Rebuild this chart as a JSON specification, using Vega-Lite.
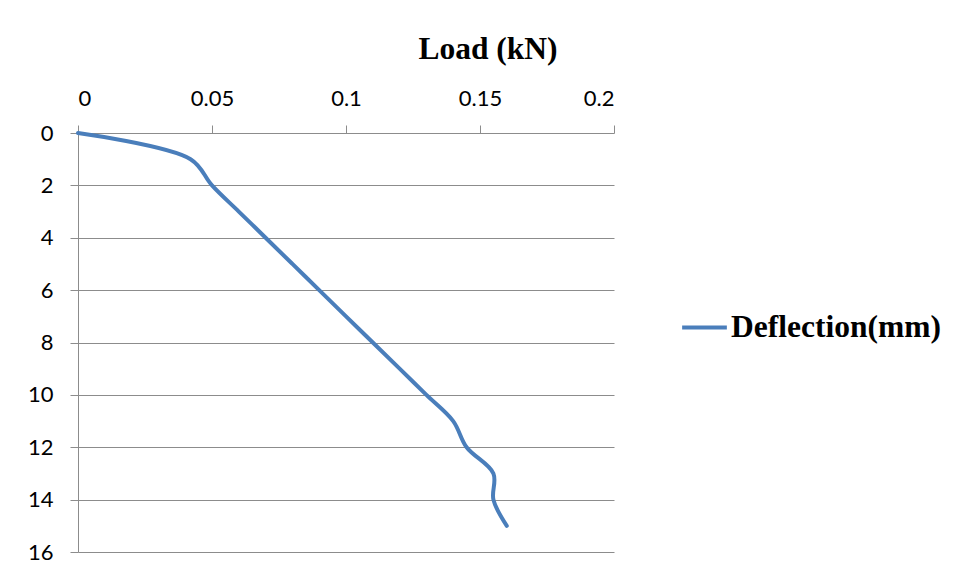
{
  "$schema": "https://vega.github.io/schema/vega-lite/v6.json",
  "width": 536,
  "height": 419,
  "autosize": "none",
  "padding": {"left": 78, "top": 133, "right": 345, "bottom": 28},
  "background": "white",
  "title": {
    "text": "Load (kN)",
    "font": "Liberation Serif",
    "fontWeight": "bold",
    "fontSize": 31.5,
    "color": "black",
    "anchor": "middle",
    "dx": 142,
    "offset": 22
  },
  "data": {
    "values": [
      {"deflection": 0, "load": 0, "series": "Deflection(mm)"},
      {"deflection": 1, "load": 0.042, "series": "Deflection(mm)"},
      {"deflection": 2, "load": 0.05, "series": "Deflection(mm)"},
      {"deflection": 3, "load": 0.06, "series": "Deflection(mm)"},
      {"deflection": 4, "load": 0.07, "series": "Deflection(mm)"},
      {"deflection": 5, "load": 0.08, "series": "Deflection(mm)"},
      {"deflection": 6, "load": 0.09, "series": "Deflection(mm)"},
      {"deflection": 7, "load": 0.1, "series": "Deflection(mm)"},
      {"deflection": 8, "load": 0.11, "series": "Deflection(mm)"},
      {"deflection": 9, "load": 0.12, "series": "Deflection(mm)"},
      {"deflection": 10, "load": 0.13, "series": "Deflection(mm)"},
      {"deflection": 11, "load": 0.14, "series": "Deflection(mm)"},
      {"deflection": 12, "load": 0.145, "series": "Deflection(mm)"},
      {"deflection": 13, "load": 0.155, "series": "Deflection(mm)"},
      {"deflection": 14, "load": 0.155, "series": "Deflection(mm)"},
      {"deflection": 15, "load": 0.16, "series": "Deflection(mm)"}
    ]
  },
  "mark": {"type": "line", "interpolate": "catmull-rom", "strokeWidth": 4, "strokeCap": "round"},
  "encoding": {
    "x": {
      "field": "load",
      "type": "quantitative",
      "scale": {"domain": [0, 0.2], "nice": false, "zero": true},
      "axis": {
        "orient": "top",
        "title": null,
        "values": [0, 0.05, 0.1, 0.15, 0.2],
        "format": "~g",
        "grid": false,
        "domain": false,
        "tickSize": 8,
        "tickColor": "#8c8c8c",
        "labelPadding": 15,
        "labelFont": "Lato",
        "labelFontSize": 22,
        "labelColor": "black"
      }
    },
    "y": {
      "field": "deflection",
      "type": "quantitative",
      "scale": {"domain": [0, 16], "nice": false, "reverse": true},
      "axis": {
        "title": null,
        "values": [0, 2, 4, 6, 8, 10, 12, 14, 16],
        "grid": true,
        "gridColor": "#8c8c8c",
        "gridOpacity": 1,
        "domainColor": "#8c8c8c",
        "tickColor": "#8c8c8c",
        "tickSize": 8,
        "labelPadding": 17,
        "labelFont": "Lato",
        "labelFontSize": 22,
        "labelColor": "black"
      }
    },
    "order": {"field": "deflection", "type": "quantitative"},
    "color": {
      "field": "series",
      "type": "nominal",
      "scale": {"range": ["#4a7ebb"]},
      "legend": {
        "title": null,
        "orient": "none",
        "legendX": 602,
        "legendY": 170,
        "symbolType": "stroke",
        "symbolSize": 2000,
        "symbolStrokeWidth": 4,
        "labelFont": "Liberation Serif",
        "labelFontWeight": "bold",
        "labelFontSize": 31.5,
        "labelColor": "black",
        "labelOffset": 2,
        "labelLimit": 400
      }
    }
  },
  "config": {"view": {"stroke": null}}
}
